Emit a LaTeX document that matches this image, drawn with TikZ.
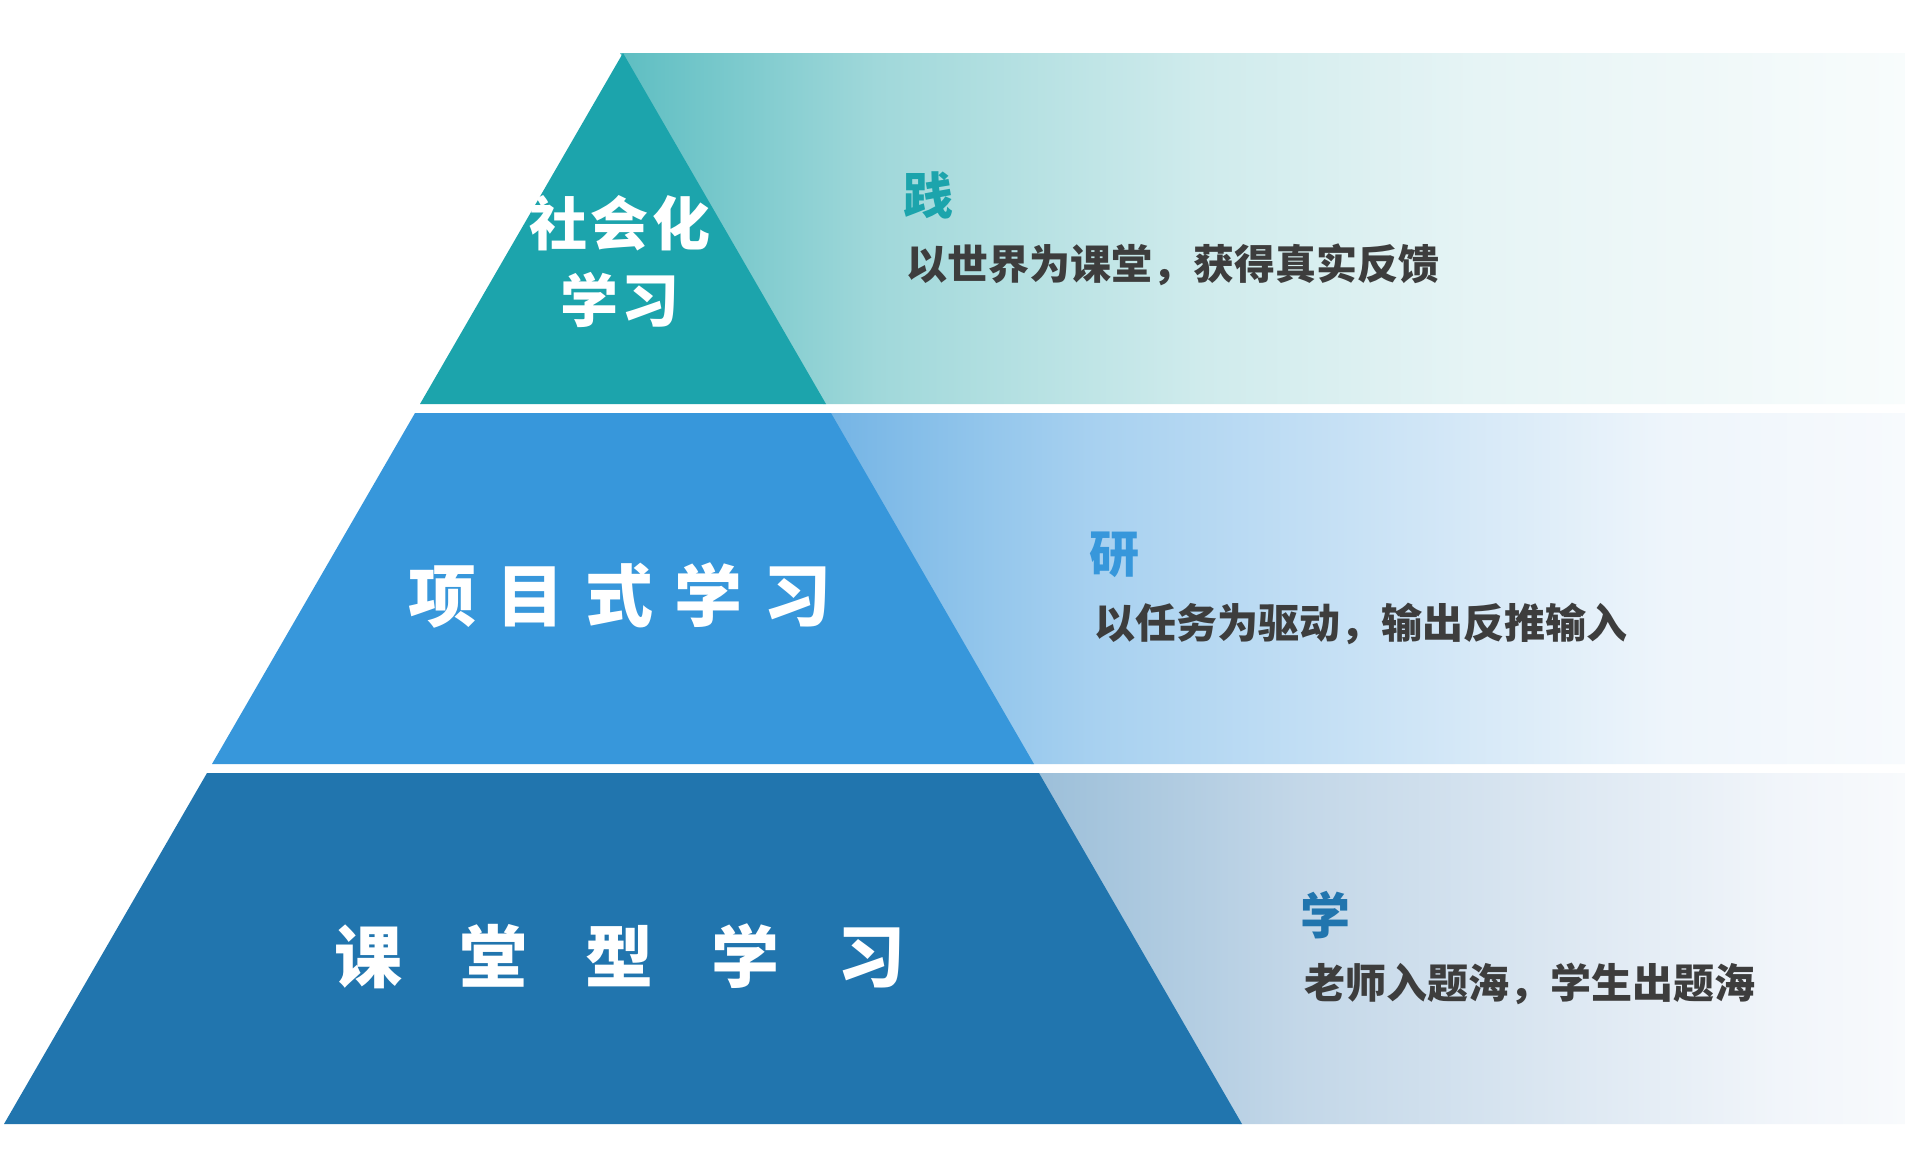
\documentclass[tikz,border=0pt]{standalone}
\usepackage{fontspec}
\newfontfamily\cjk{Noto Sans CJK SC}
\definecolor{triA}{HTML}{1CA4AC}
\definecolor{triB}{HTML}{3797DB}
\definecolor{triC}{HTML}{2175AE}
\definecolor{txt}{HTML}{3D3D3D}
\definecolor{a0}{HTML}{5EBEC2}
\definecolor{a1}{HTML}{A0D8DA}
\definecolor{a2}{HTML}{CFEBEC}
\definecolor{a3}{HTML}{E6F4F5}
\definecolor{a4}{HTML}{F8FCFC}
\definecolor{b0}{HTML}{74B4E5}
\definecolor{b1}{HTML}{95C7EC}
\definecolor{b2}{HTML}{A8D1F0}
\definecolor{b3}{HTML}{EEF5FB}
\definecolor{b4}{HTML}{F7FAFD}
\definecolor{c0}{HTML}{9CBFD9}
\definecolor{c1}{HTML}{C3D7E8}
\definecolor{c2}{HTML}{F1F5FA}
\definecolor{c3}{HTML}{F8FAFC}
\pgfdeclarehorizontalshading{bandA}{100bp}{color(0bp)=(a0); color(25bp)=(a0); color(35bp)=(a1); color(47.5bp)=(a2); color(58.4bp)=(a3); color(75bp)=(a4); color(100bp)=(a4)}
\pgfdeclarehorizontalshading{bandB}{100bp}{color(0bp)=(b0); color(25bp)=(b0); color(32.8bp)=(b1); color(37.5bp)=(b2); color(64bp)=(b3); color(75bp)=(b4); color(100bp)=(b4)}
\pgfdeclarehorizontalshading{bandC}{100bp}{color(0bp)=(c0); color(25bp)=(c0); color(40.1bp)=(c1); color(67.8bp)=(c2); color(75bp)=(c3); color(100bp)=(c3)}
\tikzset{
  title/.style={text=white, inner sep=0pt, font=\cjk\bfseries},
  head/.style={inner sep=0pt, anchor=west, font=\cjk\bfseries\fontsize{50}{60}\selectfont},
  desc/.style={inner sep=0pt, anchor=west, text=txt, font=\cjk\bfseries\fontsize{41}{50}\selectfont}
}
\begin{document}
\begin{tikzpicture}[x=1pt,y=-1pt]
\useasboundingbox (0,0) rectangle (1905,1171);
\fill[white] (0,0) rectangle (1905,1171);
% gradient bands
\shade[shading=bandA] (620,53) -- (1905,53) -- (1905,404) -- (823,404) -- cycle;
\shade[shading=bandB] (828,413) -- (1905,413) -- (1905,764) -- (1031,764) -- cycle;
\shade[shading=bandC] (1036,773) -- (1905,773) -- (1905,1124) -- (1239,1124) -- cycle;
% pyramid layers
\fill[triA] (623,53) -- (826,404) -- (420,404) -- cycle;
\fill[triB] (415,413) -- (831,413) -- (1034,764) -- (212,764) -- cycle;
\fill[triC] (207,773) -- (1039,773) -- (1242,1124) -- (4,1124) -- cycle;
% titles
\node[title, font=\cjk\bfseries\fontsize{58}{70}\selectfont] (t1a) at (620,223) {社\hspace{4pt}会\hspace{4pt}化};
\node[title, font=\cjk\bfseries\fontsize{58}{70}\selectfont] (t1b) at (620,300) {学\hspace{4pt}习};
\node[title, font=\cjk\bfseries\fontsize{68}{80}\selectfont] (t2) at (620,595) {项\hspace{21pt}目\hspace{21pt}式\hspace{21pt}学\hspace{21pt}习};
\node[title, font=\cjk\bfseries\fontsize{68}{80}\selectfont] (t3) at (620,956) {课\hspace{58pt}堂\hspace{58pt}型\hspace{58pt}学\hspace{58pt}习};
% right side texts
\node[head, text=triA] (h1) at (903,195) {践};
\node[desc] (d1) at (906,265) {以世界为课堂，获得真实反馈};
\node[head, text=triB] (h2) at (1089,555) {研};
\node[desc] (d2) at (1094,624) {以任务为驱动，输出反推输入};
\node[head, text=triC] (h3) at (1300,915) {学};
\node[desc] (d3) at (1304,984) {老师入题海，学生出题海};
\end{tikzpicture}
\end{document}
